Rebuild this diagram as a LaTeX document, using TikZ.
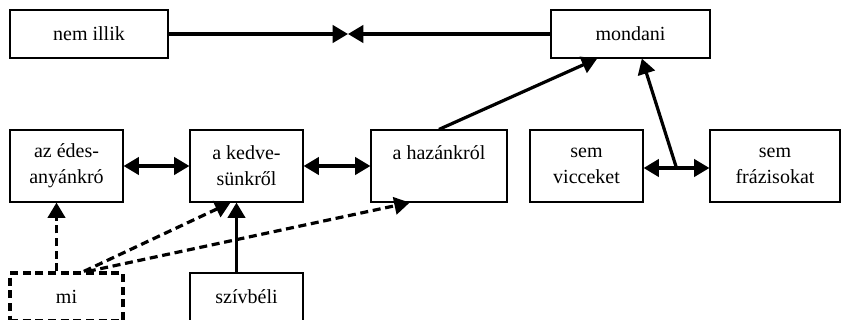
\documentclass[tikz,border=0pt]{standalone}
\usepackage{fontspec}
\setmainfont{Liberation Serif}
\usetikzlibrary{arrows.meta,positioning}
\tikzset{>={Triangle[width=13pt,length=11.5pt]}}

\begin{document}
\begin{tikzpicture}[x=0.75pt,y=-0.75pt,
  box/.style={draw,line width=0.9pt,minimum width=84.75pt,minimum height=54pt,
    inner sep=0pt,align=center,font=\fontsize{15}{19.5}\selectfont},
  dbox/.style={box,line width=2.4pt,dash pattern=on 6pt off 3.5pt},
  link/.style={line width=2.4pt},
  dlink/.style={link,dash pattern=on 6pt off 3.5pt}]

  \useasboundingbox (0,0) rectangle (841,320); %% page size

  %% upper row
  \node[box,minimum width=118.5pt,minimum height=36pt] (nemillik) at (89,34) {nem illik};
  \node[box,minimum width=119.25pt,minimum height=36pt] (mondani) at (630.5,34) {mondani};
  \coordinate (meet) at (348,34);

  %% middle row
  \node[box] (edes) at (66.5,166) {az édes-\\anyánkró};
  \node[box] (kedve) at (246.5,166) {a kedve-\\sünkről};
  \node[box,minimum width=102pt] (hazank) at (439,166) {a hazánkról\\\mbox{}};
  \node[box] (vicc) at (586.5,166) {sem\\vicceket};
  \node[box,minimum width=97.5pt] (frazis) at (775,166) {sem\\frázisokat};
  \coordinate (fork) at (676.5,168);

  %% lower row
  \node[dbox,minimum height=36pt] (mi) at (66.5,297) {mi};
  \node[box,minimum height=36pt] (szivbeli) at (246.5,297) {szívbéli};

  %% connectors
  \draw[link,->] (nemillik.east) -- (meet);
  \draw[link,->] (mondani.west) -- (meet);
  \draw[link,<->] (edes) -- (kedve);
  \draw[link,<->] (kedve) -- (hazank);
  \draw[link,<->] ([yshift=-1.5pt]vicc.east) -- ([yshift=-1.5pt]frazis.west);
  \draw[link,->] (hazank.north) -- ([xshift=-25pt]mondani.south);
  \draw[link,->] (fork) -- ([xshift=8.5pt]mondani.south);
  \draw[link,->] ([xshift=-7.5pt]szivbeli.north) -- ([xshift=-7.5pt]kedve.south);

  \draw[dlink,->] ([xshift=-7.5pt]mi.north) -- ([xshift=-7.5pt]edes.south);
  \draw[dlink,->] ([xshift=13pt]mi.north) -- ([xshift=-12pt]kedve.south);
  \draw[dlink,->] ([xshift=16pt]mi.north) -- ([xshift=-22pt]hazank.south);

\end{tikzpicture}
\end{document}
